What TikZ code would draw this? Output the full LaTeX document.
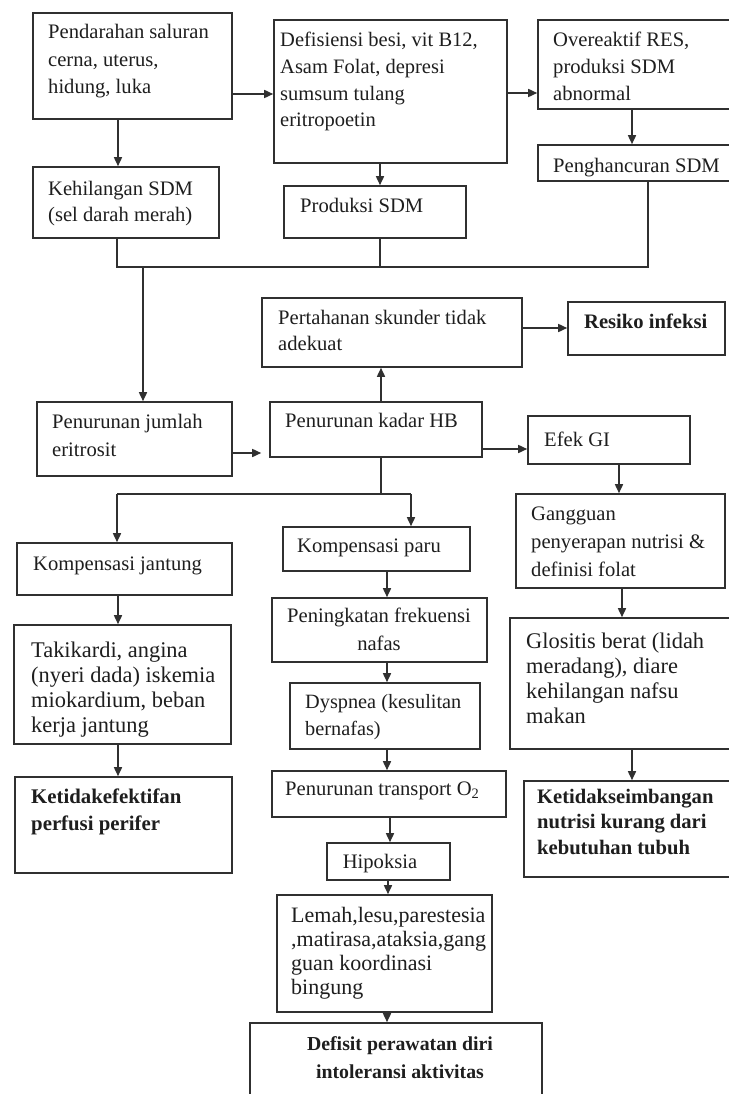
\documentclass[tikz,border=0pt]{standalone}
\usepackage{fontspec}
\setmainfont{Liberation Serif}
\usetikzlibrary{arrows.meta,fit}
\definecolor{linec}{HTML}{303030}
\definecolor{textc}{HTML}{1E1E1E}
\newcommand\txtl[3]{{\fontsize{#1}{#2}\selectfont\begin{tabular}[t]{@{}l@{}}#3\end{tabular}}}
\newcommand\txtc[3]{{\fontsize{#1}{#2}\selectfont\begin{tabular}[t]{@{}c@{}}#3\end{tabular}}}
\begin{document}
\begin{tikzpicture}[x=1pt,y=-1pt,
  box/.style={draw=linec, line width=1.6pt, inner sep=0pt, rectangle},
  arr/.style={draw=linec, line width=1.6pt, -{Triangle[length=9pt,width=8pt]}},
  ln/.style={draw=linec, line width=1.6pt},
  txt/.style={inner sep=0pt, anchor=base west, text=textc},
  txtm/.style={inner sep=0pt, anchor=base, text=textc}]
\fill[white] (0,0) rectangle (728,1094);
\useasboundingbox (0,0) rectangle (728,1094);
% boxes
\node[box, fit={(33,13) (232,119)}] (A) {};
\node[box, fit={(274,20) (507,163)}] (B) {};
\node[box, fit={(33,167) (219,238)}] (C) {};
\node[box, fit={(284,186) (466,238)}] (D) {};
\node[box, fit={(538,20) (740,109)}] (E) {};
\node[box, fit={(538,145) (740,181)}] (F) {};
\node[box, fit={(262,298) (522,367)}] (G) {};
\node[box, fit={(568,302) (725,355)}] (H) {};
\node[box, fit={(37,402) (232,476)}] (I) {};
\node[box, fit={(270,402) (482,457)}] (J) {};
\node[box, fit={(528,416) (690,464)}] (K) {};
\node[box, fit={(516,494) (725,588)}] (L) {};
\node[box, fit={(17,543) (232,595)}] (M) {};
\node[box, fit={(283,527) (470,571)}] (N) {};
\node[box, fit={(272,598) (487,662)}] (O) {};
\node[box, fit={(290,683) (480,749)}] (P) {};
\node[box, fit={(272,771) (506,817)}] (Q) {};
\node[box, fit={(327,843) (450,880)}] (S) {};
\node[box, fit={(14,625) (231,744)}] (U) {};
\node[box, fit={(15,777) (232,873)}] (R) {};
\node[box, fit={(510,618) (740,749)}] (Gl) {};
\node[box, fit={(524,781) (740,877)}] (T) {};
\node[box, fit={(277,895) (492,1012)}] (V) {};
\node[box, fit={(250,1023) (542,1110)}] (W) {};
% texts
\node[txt] (tA) at (48,39) {\txtl{20.6}{27.3}{Pendarahan saluran\\cerna, uterus,\\hidung, luka}};
\node[txt] (tB) at (280,47) {\txtl{20.5}{26.6}{Defisiensi besi, vit B12,\\Asam Folat, depresi\\sumsum tulang\\eritropoetin}};
\node[txt] (tC) at (48,195) {\txtl{20.6}{27}{Kehilangan SDM\\(sel darah merah)}};
\node[txt] (tD) at (300,212) {\txtl{20.6}{27}{Produksi SDM}};
\node[txt] (tE) at (553,47) {\txtl{20.6}{27}{Overeaktif RES,\\produksi SDM\\abnormal}};
\node[txt] (tF) at (553,172) {\txtl{20.6}{27}{Penghancuran SDM}};
\node[txt] (tG) at (278,324) {\txtl{20.6}{26}{Pertahanan skunder tidak\\adekuat}};
\node[txt] (tH) at (584,328) {\txtl{20.6}{27}{\bfseries Resiko infeksi}};
\node[txt] (tI) at (52,428) {\txtl{20.6}{28}{Penurunan jumlah\\eritrosit}};
\node[txt] (tJ) at (285,427) {\txtl{20.6}{27}{Penurunan kadar HB}};
\node[txt] (tK) at (544,446) {\txtl{20.6}{27}{Efek GI}};
\node[txt] (tL) at (531,520) {\txtl{20.6}{28}{Gangguan\\penyerapan nutrisi \&\\definisi folat}};
\node[txt] (tM) at (33,570) {\txtl{20.6}{27}{Kompensasi jantung}};
\node[txt] (tN) at (297,552) {\txtl{20.6}{27}{Kompensasi paru}};
\node[txtm] (tO) at (379,622) {\txtc{20.6}{28}{Peningkatan frekuensi\\nafas}};
\node[txt] (tP) at (305,708) {\txtl{20.3}{27}{Dyspnea (kesulitan\\bernafas)}};
\node[txt] (tQ) at (285,795) {\txtl{20.6}{27}{Penurunan transport O\textsubscript{2}}};
\node[txtm] (tS) at (380,868) {\txtc{20.6}{27}{Hipoksia}};
\node[txt] (tU) at (31,657) {\txtl{22.4}{25}{Takikardi, angina\\(nyeri dada) iskemia\\miokardium, beban\\kerja jantung}};
\node[txt] (tR) at (31,803) {\txtl{20.8}{27}{\bfseries Ketidakefektifan\\\bfseries perfusi perifer}};
\node[txt] (tGl) at (526,648) {\txtl{22.4}{25}{Glositis berat (lidah\\meradang), diare\\kehilangan nafsu\\makan}};
\node[txt] (tT) at (537,803) {\txtl{20.6}{25.5}{\bfseries Ketidakseimbangan\\\bfseries nutrisi kurang dari\\\bfseries kebutuhan tubuh}};
\node[txt] (tV) at (291,922) {\txtl{22}{24}{Lemah,lesu,parestesia\\,matirasa,ataksia,gang\\guan koordinasi\\bingung}};
\node[txtm] (tW) at (400,1050) {\txtc{19.8}{28}{\bfseries Defisit perawatan diri\\\bfseries intoleransi aktivitas}};
% connectors
\draw[arr] (A.east |- 0,94) -- (B.west |- 0,94);
\draw[arr] (A.south -| 118,0) -- (C.north -| 118,0);
\draw[arr] (B.east |- 0,93) -- (E.west |- 0,93);
\draw[arr] (B.south -| 380,0) -- (D.north -| 380,0);
\draw[arr] (E.south -| 632,0) -- (F.north -| 632,0);
\coordinate (m1) at (117,267);
\coordinate (m2) at (648,267);
\coordinate (mj) at (143,267);
\draw[ln] (C.south -| m1) -- (m1) -- (m2) -- (F.south -| m2);
\draw[ln] (D.south -| 380,0) -- (m1 -| 380,0);
\draw[arr] (mj) -- (I.north -| mj);
\draw[arr] (J.north -| 381,0) -- (G.south -| 381,0);
\draw[arr] (G.east |- 0,328) -- (H.west |- 0,328);
\draw[arr, shorten >=8pt] (I.east |- 0,453) -- (J.west |- 0,453);
\draw[arr] (J.east |- 0,449) -- (K.west |- 0,449);
\draw[arr] (K.south -| 619,0) -- (L.north -| 619,0);
\coordinate (s0) at (381,494);
\coordinate (s1) at (117,494);
\coordinate (s2) at (411,494);
\draw[ln] (J.south -| s0) -- (s0);
\draw[ln] (s1) -- (s2);
\draw[arr] (s1) -- (M.north -| s1);
\draw[arr] (s2) -- (N.north -| s2);
\draw[arr] (M.south -| 118,0) -- (U.north -| 118,0);
\draw[arr] (U.south -| 118,0) -- (R.north -| 118,0);
\draw[arr] (N.south -| 387,0) -- (O.north -| 387,0);
\draw[arr] (O.south -| 387,0) -- (P.north -| 387,0);
\draw[arr] (P.south -| 387,0) -- (Q.north -| 387,0);
\draw[arr] (Q.south -| 390,0) -- (S.north -| 390,0);
\draw[arr] (S.south -| 388,0) -- (V.north -| 388,0);
\draw[arr] (V.south -| 387,0) -- (W.north -| 387,0);
\draw[arr] (L.south -| 622,0) -- (Gl.north -| 622,0);
\draw[arr] (Gl.south -| 632,0) -- (T.north -| 632,0);
\end{tikzpicture}
\end{document}
